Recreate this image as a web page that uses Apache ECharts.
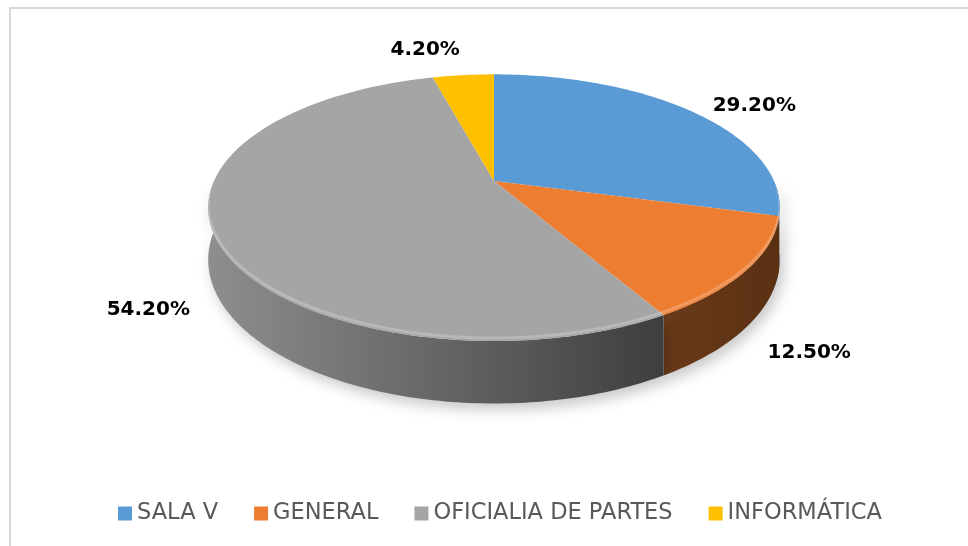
<!DOCTYPE html>
<html>
<head>
<meta charset="utf-8">
<script src="https://cdn.jsdelivr.net/npm/echarts@6/dist/echarts.min.js"></script>
<style>
  html, body { margin: 0; padding: 0; background: #fff; }
  #chart { width: 968px; height: 546px; }
</style>
</head>
<body>
<div id="chart"></div>
<script>
// data
const categories = ["SALA V", "GENERAL", "OFICIALIA DE PARTES", "INFORMÁTICA"];
const values = [29.2, 12.5, 54.2, 4.2];
const labels = ["29.20%", "12.50%", "54.20%", "4.20%"];

const topColors = ["#5b9bd5", "#ed7d31", "#a5a5a5", "#ffc000"];
const sideColors = [
  ["#3a6890", "#2b4f72"],
  ["#6a3a18", "#5a3013"],
  ["#8e8e8e", "#3e3e3e"],
  ["#b08400", "#8a6700"],
];
const FONT = "DejaVu Sans";

// tilted pie geometry (simple perspective)
const pie = { cx: 494, cy: 181, rx: 280, ry: 128, p: 0.2, depth: 50 };

const total = values.reduce((a, b) => a + b, 0);
const starts = [];
let acc = 0;
values.forEach((v) => {
  starts.push((acc / total) * 360);
  acc += v;
});

function proj(deg, down) {
  const t = (deg * Math.PI) / 180;
  const u = Math.sin(t);
  const v = -Math.cos(t);
  const s = 1 / (1 - pie.p * v);
  return [
    pie.cx + pie.rx * u * s,
    pie.cy + pie.ry * v * s + (down ? pie.depth * s : 0),
  ];
}

function renderSlice(i) {
  return function (params, api) {
    const a1 = starts[i];
    const a2 = a1 + (values[i] / total) * 360;
    const children = [];

    // top face
    const top = [[pie.cx, pie.cy]];
    for (let a = a1; a < a2; a += 1) top.push(proj(a));
    top.push(proj(a2));
    children.push({
      type: "polygon",
      z2: 10,
      shape: { points: top },
      style: { fill: topColors[i] },
    });

    // visible side wall (front half)
    const s1 = Math.max(a1, 90);
    const s2 = Math.min(a2, 270);
    if (s2 > s1) {
      const pts = [];
      const rim = [];
      for (let a = s1; a < s2; a += 1) pts.push(proj(a));
      pts.push(proj(s2));
      pts.forEach((q) => rim.push([q[0], q[1] - 3]));
      for (let a = s2; a > s1; a -= 1) pts.push(proj(a, true));
      pts.push(proj(s1, true));
      children.push({
        type: "polygon",
        z2: 1,
        shape: { points: pts },
        style: {
          fill: new echarts.graphic.LinearGradient(0, 0, 1, 0, [
            { offset: 0, color: sideColors[i][0] },
            { offset: 1, color: sideColors[i][1] },
          ]),
          shadowColor: "rgba(0,0,0,0.22)",
          shadowBlur: 14,
          shadowOffsetX: 4,
          shadowOffsetY: 6,
        },
      });
      // bevel highlight along the front rim
      children.push({
        type: "polyline",
        z2: 11,
        shape: { points: rim },
        style: {
          stroke: "rgba(255,255,255,0.22)",
          lineWidth: 3,
          fill: null,
        },
      });
    }

    // data label
    const m = (a1 + a2) / 2;
    const t = (m * Math.PI) / 180;
    const u = Math.sin(t);
    const v = -Math.cos(t);
    const edge = proj(m, v > 0);
    const gap = 26;
    children.push({
      type: "text",
      z2: 20,
      style: {
        x: edge[0] + u * gap,
        y: edge[1] + v * gap + 12 * (1 - Math.pow(v, 4)),
        text: labels[i],
        fill: "#000",
        font: "bold 20px '" + FONT + "'",
        align: u >= 0 ? "left" : "right",
        verticalAlign: "middle",
      },
    });

    return { type: "group", children: children };
  };
}

const chart = echarts.init(document.getElementById("chart"));

chart.setOption({
  animation: false,
  backgroundColor: "#fff",
  graphic: [
    {
      type: "rect",
      shape: { x: 10, y: 8, width: 975, height: 560 },
      style: { fill: "none", stroke: "#d9d9d9", lineWidth: 2 },
      silent: true,
    },
  ],
  legend: {
    top: 497,
    left: 113,
    icon: "rect",
    itemWidth: 14,
    itemHeight: 14,
    itemGap: 36,
    itemTextGap: 5,
    textStyle: { fontFamily: FONT, fontSize: 22.5, color: "#595959" },
    data: categories,
  },
  series: categories.map((name, i) => ({
    type: "custom",
    name: name,
    coordinateSystem: "none",
    itemStyle: { color: topColors[i] },
    renderItem: renderSlice(i),
    data: [values[i]],
  })),
});
</script>
</body>
</html>
